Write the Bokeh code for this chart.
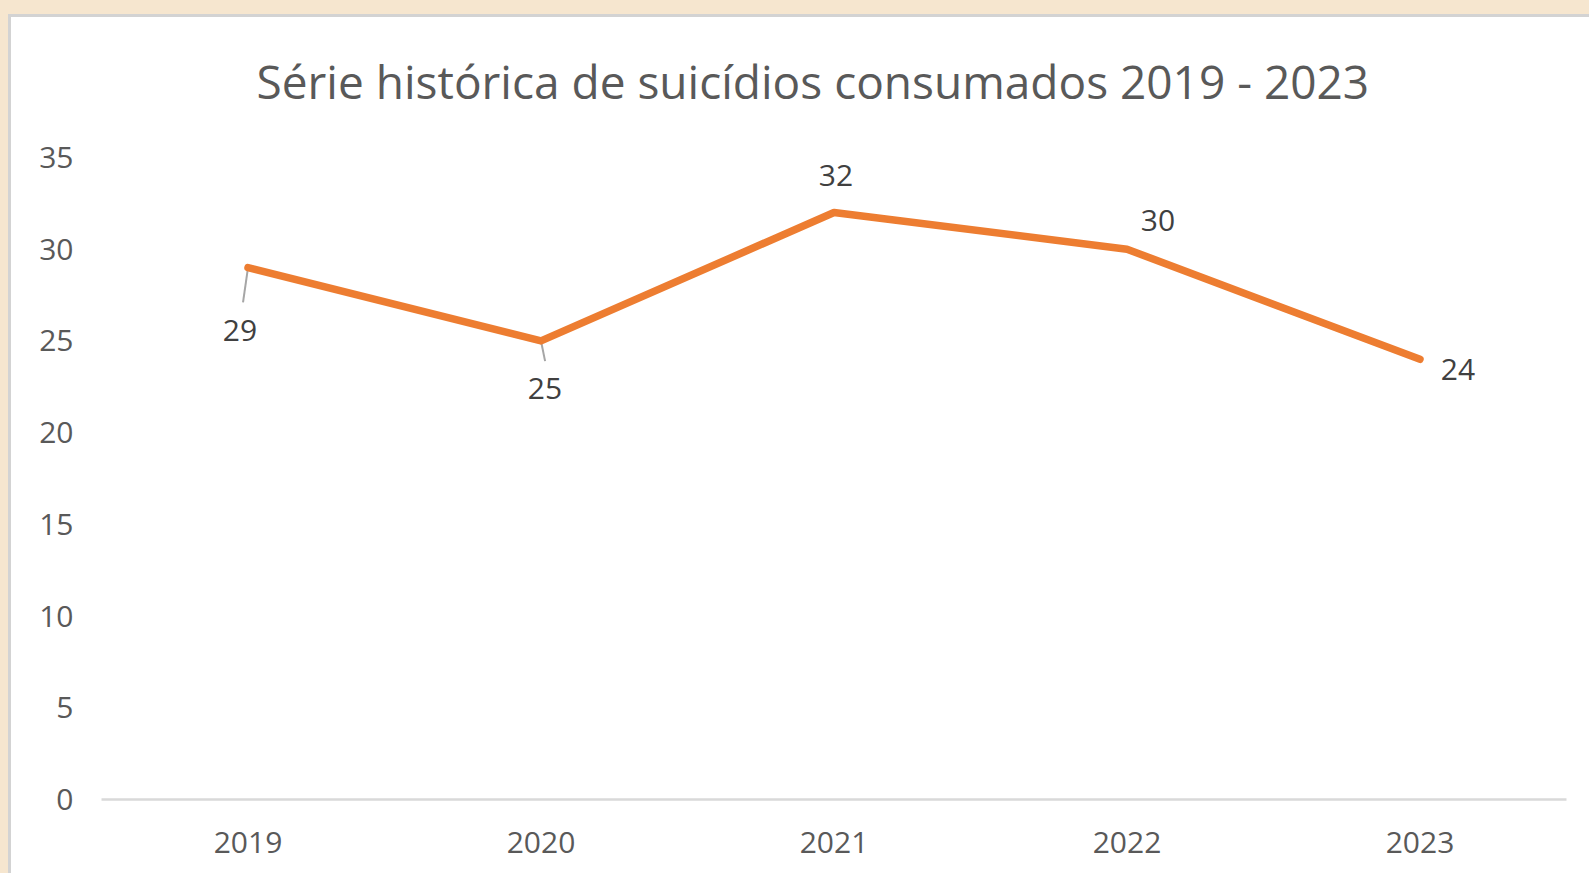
from bokeh.plotting import figure
from bokeh.models import LabelSet, ColumnDataSource, FixedTicker
from bokeh.core.properties import value
from bokeh.transform import dodge
from bokeh.embed import file_html
from bokeh.resources import INLINE

# ---- data ----
years = ["2019", "2020", "2021", "2022", "2023"]
values = [29, 25, 32, 30, 24]
y_ticks = [0, 5, 10, 15, 20, 25, 30, 35]
title_text = "Série histórica de suicídios consumados 2019 - 2023"

# ---- label placement (pixels) ----
label_dx = [-8, 4, 2, 31, 38]
label_dy = [-63, -48, 37, 29, -10]

FONT = "Open Sans"
TICK_COLOR = "#595959"
LABEL_COLOR = "#404040"
ORANGE = "#ED7D31"
BEIGE = "#f6e6cf"
EDGE = "#d3d3d3"

p = figure(x_range=years, y_range=(0, 35), width=1589, height=873,
           output_backend="svg", toolbar_location=None,
           min_border_left=101, min_border_right=23,
           min_border_top=157, min_border_bottom=74)
# panel look: beige page, grey edge, white card (drawn by CSS behind a transparent canvas)
p.styles = {
    "background": (
        f"linear-gradient({BEIGE},{BEIGE}) 0 0 / 100% 14px no-repeat, "
        f"linear-gradient({BEIGE},{BEIGE}) 0 0 / 8px 100% no-repeat, "
        f"linear-gradient({EDGE},{EDGE}) 0 0 / 100% 17px no-repeat, "
        f"linear-gradient({EDGE},{EDGE}) 0 0 / 11px 100% no-repeat, "
        "white"
    )
}
p.background_fill_color = None
p.border_fill_color = None
p.outline_line_color = None

p.title.text = title_text
p.title.align = "left"
p.title.offset = 155
p.title.vertical_align = "middle"
p.title.standoff = 90
p.title.text_font = FONT
p.title.text_font_size = "46px"
p.title.text_font_style = "normal"
p.title.text_color = TICK_COLOR

p.xgrid.grid_line_color = None
p.ygrid.grid_line_color = None
p.x_range.range_padding = 0

p.xaxis.axis_line_color = "#d9d9d9"
p.xaxis.axis_line_width = 2.5
p.xaxis.major_tick_line_color = None
p.xaxis.minor_tick_line_color = None
p.xaxis.major_label_standoff = 26
p.xaxis.major_label_text_font = FONT
p.xaxis.major_label_text_font_size = "30px"
p.xaxis.major_label_text_color = TICK_COLOR

p.yaxis.ticker = FixedTicker(ticks=y_ticks)
p.yaxis.axis_line_color = None
p.yaxis.major_tick_line_color = None
p.yaxis.minor_tick_line_color = None
p.yaxis.major_label_standoff = 22
p.yaxis.major_label_text_font = FONT
p.yaxis.major_label_text_font_size = "30px"
p.yaxis.major_label_text_color = TICK_COLOR

# leader lines for the two labels placed below their points
leaders = [(0, -0.017, 1.9), (1, 0.014, 1.1)]
for idx, dx, drop in leaders:
    src = ColumnDataSource(dict(x=[years[idx]], y0=[values[idx]], y1=[values[idx] - drop]))
    p.segment(x0=dodge("x", 0, range=p.x_range), y0="y0",
              x1=dodge("x", dx, range=p.x_range), y1="y1",
              source=src, line_color="#a6a6a6", line_width=2)

p.line(years, values, line_color=ORANGE, line_width=7.5,
       line_join="round", line_cap="round")

lsrc = ColumnDataSource(dict(x=years, y=values, text=[str(v) for v in values],
                             dx=label_dx, dy=label_dy))
p.add_layout(LabelSet(x="x", y="y", text="text", x_offset="dx", y_offset="dy",
                      source=lsrc, text_align="center", text_baseline="middle",
                      text_font=value(FONT), text_font_size=value("30px"),
                      text_color=LABEL_COLOR))

html = file_html(p, INLINE)
html = html.replace("<head>", f"<head><style>html,body{{margin:0;padding:0;background:{BEIGE};overflow:hidden;}}</style>", 1)
open("out.html", "w").write(html)
